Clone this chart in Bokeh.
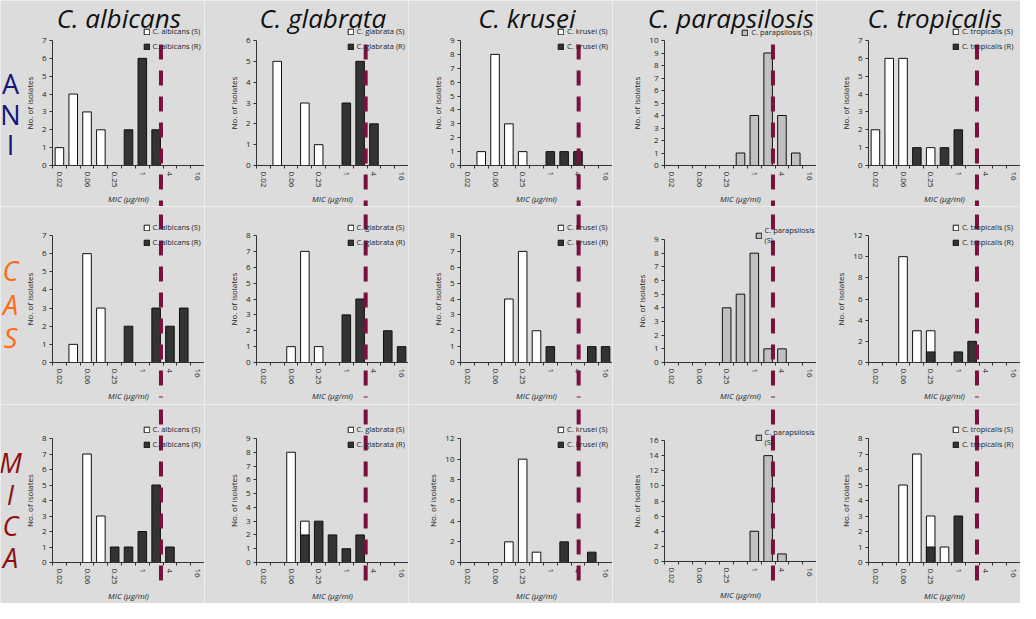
from bokeh.plotting import figure
from bokeh.layouts import column, row
from bokeh.models import Range1d, FixedTicker, SingleIntervalTicker, Label
from bokeh.embed import file_html
from bokeh.resources import INLINE
from bokeh.core.properties import value

# ---------------- data ----------------
species = ["C. albicans", "C. glabrata", "C. krusei", "C. parapsilosis", "C. tropicalis"]
drugs = ["ANI", "CAS", "MICA"]
mic_categories = ["0.02", "0.03", "0.06", "0.125", "0.25", "0.5", "1", "2", "4", "8", "16"]
tick_labels = ["0.02", "0.06", "0.25", "1", "4", "16"]
x_label = "MIC (µg/ml)"
y_label = "No. of isolates"

# counts of isolates per MIC category (S = susceptible, R = resistant)
ani_albicans_s = [1, 4, 3, 2, 0, 0, 0, 0, 0, 0, 0]
ani_albicans_r = [0, 0, 0, 0, 0, 2, 6, 2, 0, 0, 0]
ani_glabrata_s = [0, 5, 0, 3, 1, 0, 0, 0, 0, 0, 0]
ani_glabrata_r = [0, 0, 0, 0, 0, 0, 3, 5, 2, 0, 0]
ani_krusei_s = [0, 1, 8, 3, 1, 0, 0, 0, 0, 0, 0]
ani_krusei_r = [0, 0, 0, 0, 0, 0, 1, 1, 1, 0, 0]
ani_parapsilosis_s = [0, 0, 0, 0, 0, 1, 4, 9, 4, 1, 0]
ani_tropicalis_s = [2, 6, 6, 0, 1, 0, 0, 0, 0, 0, 0]
ani_tropicalis_r = [0, 0, 0, 1, 0, 1, 2, 0, 0, 0, 0]

cas_albicans_s = [0, 1, 6, 3, 0, 0, 0, 0, 0, 0, 0]
cas_albicans_r = [0, 0, 0, 0, 0, 2, 0, 3, 2, 3, 0]
cas_glabrata_s = [0, 0, 1, 7, 1, 0, 0, 0, 0, 0, 0]
cas_glabrata_r = [0, 0, 0, 0, 0, 0, 3, 4, 0, 2, 1]
cas_krusei_s = [0, 0, 0, 4, 7, 2, 0, 0, 0, 0, 0]
cas_krusei_r = [0, 0, 0, 0, 0, 0, 1, 0, 0, 1, 1]
cas_parapsilosis_s = [0, 0, 0, 0, 4, 5, 8, 1, 1, 0, 0]
cas_tropicalis_s = [0, 0, 10, 3, 3, 0, 0, 0, 0, 0, 0]
cas_tropicalis_r = [0, 0, 0, 0, 1, 0, 1, 2, 0, 0, 0]

mica_albicans_s = [0, 0, 7, 3, 0, 0, 0, 0, 0, 0, 0]
mica_albicans_r = [0, 0, 0, 0, 1, 1, 2, 5, 1, 0, 0]
mica_glabrata_s = [0, 0, 8, 3, 0, 0, 0, 0, 0, 0, 0]
mica_glabrata_r = [0, 0, 0, 2, 3, 2, 1, 2, 0, 0, 0]
mica_krusei_s = [0, 0, 0, 2, 10, 1, 0, 0, 0, 0, 0]
mica_krusei_r = [0, 0, 0, 0, 0, 0, 0, 2, 0, 1, 0]
mica_parapsilosis_s = [0, 0, 0, 0, 0, 0, 4, 14, 1, 0, 0]
mica_tropicalis_s = [0, 0, 5, 7, 3, 1, 0, 0, 0, 0, 0]
mica_tropicalis_r = [0, 0, 0, 0, 1, 0, 3, 0, 0, 0, 0]

# y axis maximum and tick step per panel
ani_y_max = [7, 6, 9, 10, 7]
cas_y_max = [7, 8, 8, 9, 12]
mica_y_max = [8, 9, 12, 16, 8]
ani_y_step = [1, 1, 1, 1, 1]
cas_y_step = [1, 1, 1, 1, 2]
mica_y_step = [1, 1, 2, 2, 1]

# breakpoint (dashed line) position on the MIC category axis, per species
breakpoint_pos = [7.85, 7.9, 8.55, 7.85, 7.85]

susceptible = {
    "ANI": [ani_albicans_s, ani_glabrata_s, ani_krusei_s, ani_parapsilosis_s, ani_tropicalis_s],
    "CAS": [cas_albicans_s, cas_glabrata_s, cas_krusei_s, cas_parapsilosis_s, cas_tropicalis_s],
    "MICA": [mica_albicans_s, mica_glabrata_s, mica_krusei_s, mica_parapsilosis_s, mica_tropicalis_s],
}
resistant = {
    "ANI": [ani_albicans_r, ani_glabrata_r, ani_krusei_r, None, ani_tropicalis_r],
    "CAS": [cas_albicans_r, cas_glabrata_r, cas_krusei_r, None, cas_tropicalis_r],
    "MICA": [mica_albicans_r, mica_glabrata_r, mica_krusei_r, None, mica_tropicalis_r],
}
y_max = {"ANI": ani_y_max, "CAS": cas_y_max, "MICA": mica_y_max}
y_step = {"ANI": ani_y_step, "CAS": cas_y_step, "MICA": mica_y_step}

# ---------------- layout / style ----------------
BG = "#dcdcdc"
LINE_COL = "#7a1040"
DARK = "#333333"
GREY = "#c0c0c0"
FONT = "Open Sans"
row_colors = ["#14147a", "#ff6a13", "#8c1010"]
row_italic = ["normal", "italic", "italic"]

W = 204
X0_PIX = 52
CAT_PX = (W - X0_PIX) / len(mic_categories)
x_start = -X0_PIX / CAT_PX
x_end = len(mic_categories)

row_heights = [206, 198, 199]
zero_pix = [[165] * 5, [156] * 5, [158, 158, 158, 157, 158]]
top_pix = [[40] * 5, [29, 29, 29, 33, 29], [34, 34, 34, 36, 34]]
line_pix = [(44, 206), (8, 191), (5, 176)]
legend_top = [28, 18, 22]
letter_first = [83, 64, 58]
letter_pitch = [30.5, 33.5, 31.7]
LEG_CHAR_PX = 3.3

tick_pos = [mic_categories.index(t) + 0.5 for t in tick_labels]

rows = []
for r, drug in enumerate(drugs):
    H = row_heights[r]
    figs = []
    for c, sp in enumerate(species):
        z = zero_pix[r][c]
        t = top_pix[r][c]
        ym = y_max[drug][c]
        sc = (z - t) / ym
        y0 = -(H - z) / sc
        y1 = ym + t / sc

        def ydat(pix):
            return (z - pix) / sc

        def xdat(pix):
            return x_start + pix / CAT_PX

        p = figure(width=W, height=H, x_range=Range1d(x_start, x_end),
                   y_range=Range1d(y0, y1), output_backend="svg",
                   toolbar_location=None, tools="", min_border=0,
                   background_fill_color=BG, border_fill_color=BG,
                   outline_line_color=None)
        p.grid.visible = False

        s_counts = susceptible[drug][c]
        r_counts = resistant[drug][c]
        s_fill = GREY if r_counts is None else "white"
        xs = [i + 0.5 for i, v in enumerate(s_counts) if v > 0]
        ts = [v for v in s_counts if v > 0]
        s_label = sp + " (S)"
        wrapped = r_counts is None and r > 0
        if wrapped:
            s_label = sp + "\n(S)"
        p.vbar(x=xs, top=ts, bottom=0, width=0.62, fill_color=s_fill,
               line_color="#111111", line_width=1, legend_label=s_label)
        labels = [s_label]
        if r_counts is not None:
            xr = [i + 0.5 for i, v in enumerate(r_counts) if v > 0]
            tr = [v for v in r_counts if v > 0]
            p.vbar(x=xr, top=tr, bottom=0, width=0.62, fill_color=DARK,
                   line_color="#111111", line_width=1, legend_label=sp + " (R)")
            labels.append(sp + " (R)")

        # axes placed at data zero
        xa = p.xaxis[0]
        xa.fixed_location = 0
        xa.bounds = (0, len(mic_categories))
        xa.ticker = FixedTicker(ticks=tick_pos, minor_ticks=list(range(len(mic_categories) + 1)))
        xa.major_label_overrides = {tp: lab for tp, lab in zip(tick_pos, tick_labels)}
        xa.major_label_orientation = "vertical"
        xa.major_tick_in = 0
        xa.major_tick_out = 0
        xa.minor_tick_in = 0
        xa.minor_tick_out = 3
        xa.major_label_standoff = 3
        xa.major_label_text_font = FONT
        xa.major_label_text_font_size = "8px"
        xa.major_label_text_color = "#222222"
        xa.axis_label = x_label
        xa.axis_label_text_font = FONT
        xa.axis_label_text_font_size = "8px"
        xa.axis_label_text_font_style = "italic"
        xa.axis_label_text_color = "#222222"
        xa.axis_label_standoff = 3
        xa.axis_line_color = "#333333"
        xa.minor_tick_line_color = "#333333"

        ya = p.yaxis[0]
        ya.fixed_location = 0
        ya.bounds = (0, ym)
        ya.ticker = SingleIntervalTicker(interval=y_step[drug][c], num_minor_ticks=0)
        ya.major_tick_in = 0
        ya.major_tick_out = 3
        ya.minor_tick_out = 0
        ya.major_label_standoff = 3
        ya.major_label_text_font = FONT
        ya.major_label_text_font_size = "8px"
        ya.major_label_text_color = "#222222"
        ya.axis_label = y_label
        ya.axis_label_text_font = FONT
        ya.axis_label_text_font_size = "8px"
        ya.axis_label_text_font_style = "normal"
        ya.axis_label_text_color = "#222222"
        ya.axis_label_standoff = 4
        ya.axis_line_color = "#333333"
        ya.major_tick_line_color = "#333333"

        # breakpoint dashed line
        lt, lb = line_pix[r]
        p.segment(x0=[breakpoint_pos[c]], y0=[ydat(lt)], x1=[breakpoint_pos[c]], y1=[ydat(lb)],
                  line_color=LINE_COL, line_width=4, line_dash="15 11", level="overlay")

        # legend (right-aligned inside the panel)
        lg = p.legend[0]
        lg.background_fill_alpha = 0
        lg.border_line_color = None
        lg.padding = 0
        lg.margin = 0
        lg.spacing = 5
        lg.glyph_height = 7
        lg.glyph_width = 7
        lg.label_height = 9
        lg.label_standoff = 3
        lg.label_text_font = FONT
        lg.label_text_font_size = "7.5px"
        lg.label_text_color = "#222222"
        longest = max(len(line) for lab in labels for line in lab.split("\n"))
        leg_w = 10 + LEG_CHAR_PX * longest
        if wrapped:
            leg_h = 21
        else:
            leg_h = len(labels) * 9 + (len(labels) - 1) * 5
        lg.location = (W - 2 - leg_w, H - legend_top[r] - leg_h)

        # column title
        if r == 0:
            p.add_layout(Label(x=4.8, y=ydat(17), text=sp, text_font=FONT,
                               text_font_size="26px", text_font_style="italic",
                               text_align="center", text_baseline="middle",
                               text_color="#111111"))
        # row label
        if c == 0:
            letters = list(drug)
            ly = [ydat(letter_first[r] + k * letter_pitch[r]) for k in range(len(letters))]
            p.text(x=[xdat(10)] * len(letters), y=ly, text=letters,
                   text_font=value(FONT), text_font_size="27px",
                   text_font_style=row_italic[r], text_color=row_colors[r],
                   text_align="center", text_baseline="middle")
        figs.append(p)
    rows.append(row(*figs))

layout = column(*rows)
open("out.html", "w", encoding="utf-8").write(file_html(layout, INLINE))
